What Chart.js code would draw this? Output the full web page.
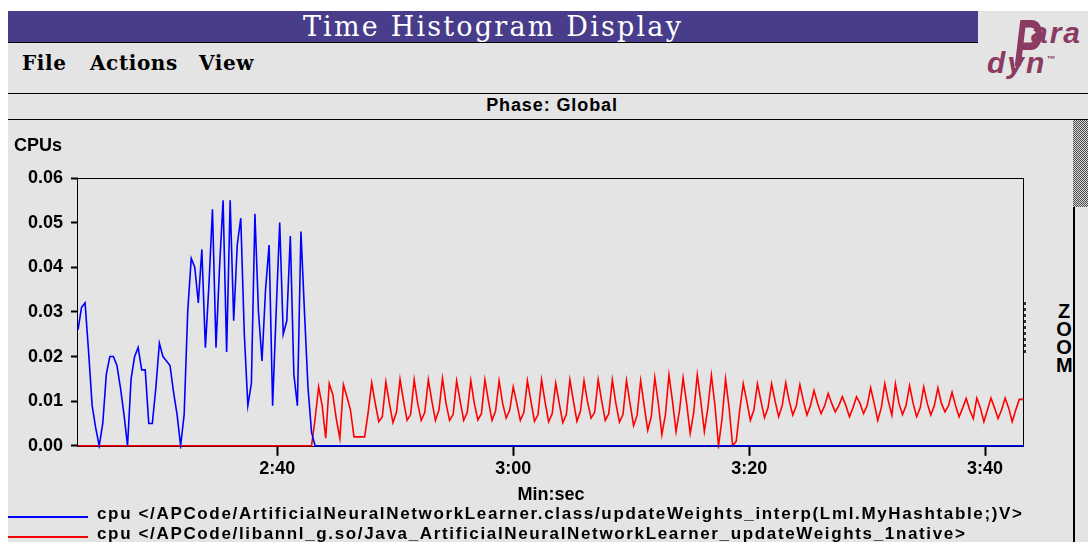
<!DOCTYPE html>
<html>
<head>
<meta charset="utf-8">
<title>Time Histogram Display</title>
<script src="https://cdn.jsdelivr.net/npm/chart.js@4.4.1/dist/chart.umd.min.js"></script>
<style>
  body {
    margin: 0;
    width: 1088px;
    height: 542px;
    overflow: hidden;
    position: relative;
    background: #fff;
    font-family: "Liberation Sans", Arial, sans-serif;
  }
  .win {
    position: absolute;
    left: 8px;
    top: 11px;
    right: 0;
    bottom: 0;
    background: #e4e4e4;
  }
  .titlebar {
    position: absolute;
    left: 8px;
    top: 11px;
    width: 970px;
    height: 31px;
    background: #483d8b;
    border-bottom: 1px solid #000;
    color: #fff;
    text-align: center;
    font: 27px/31px "DejaVu Serif", serif;
    letter-spacing: 2.2px;
  }
  .menu {
    position: absolute;
    top: 53px;
    font: bold 20px/20px "DejaVu Serif", serif;
    letter-spacing: 0.6px;
  }
  .rule {
    position: absolute;
    left: 8px;
    right: 0;
    height: 1px;
    background: #000;
  }
  .phase {
    position: absolute;
    left: 8px;
    width: 1088px;
    top: 95px;
    text-align: center;
    font: bold 18px/20px "Liberation Sans", sans-serif;
    letter-spacing: 0.9px;
  }
  .logo {
    position: absolute;
    color: #8b3a62;
    font-family: "Liberation Sans", sans-serif;
    font-style: italic;
    font-weight: bold;
    line-height: 1;
  }
  #chartBox {
    position: absolute;
    left: 0;
    top: 130px;
    width: 1040px;
    height: 376px;
  }
  .dots {
    position: absolute;
    left: 1024px;
    top: 302px;
    width: 2px;
    height: 51px;
    background: repeating-linear-gradient(#333 0 3px, transparent 3px 6px);
  }
  .zoom {
    position: absolute;
    left: 1056px;
    top: 302px;
    width: 16px;
    text-align: center;
    font: bold 20px/18px "Liberation Sans", sans-serif;
  }
  .scroll-thumb {
    position: absolute;
    left: 1073px;
    top: 120px;
    width: 15px;
    height: 87px;
    background: repeating-conic-gradient(#4a4a4a 0 25%, #d8d8d8 0 50%) 0 0 / 2px 2px;
  }
  .scroll-trough {
    position: absolute;
    left: 1073px;
    top: 207px;
    width: 13px;
    bottom: 0;
    border-left: 2px solid #000;
    background: #e4e4e4;
  }
  #legend {
    position: absolute;
    left: 0;
    top: 504px;
    width: 1088px;
  }
  .legend-row {
    position: relative;
    height: 20px;
  }
  .legend-line {
    position: absolute;
    left: 8px;
    top: 12px;
    width: 80px;
    height: 2px;
  }
  .legend-text {
    position: absolute;
    left: 97px;
    top: 0;
    white-space: nowrap;
    font: bold 17px/20px "Liberation Sans", sans-serif;
    letter-spacing: 1.65px;
  }
</style>
</head>
<body>
  <div class="win"></div>
  <div class="titlebar">Time Histogram Display</div>
  <span class="menu" style="left: 22px">File</span>
  <span class="menu" style="left: 90px">Actions</span>
  <span class="menu" style="left: 199px">View</span>

  <span class="logo" style="left: 1014px; top: 10px; font-size: 44px; transform: scale(0.95, 1.5); transform-origin: 0 0;">P</span>
  <span class="logo" style="left: 1031px; top: 18px; font-size: 30px; letter-spacing: 2px;">ara</span>
  <span class="logo" style="left: 987px; top: 48px; font-size: 30px; letter-spacing: 2px;">dyn<sup style="font-size: 9px;">™</sup></span>

  <div class="rule" style="top: 93px"></div>
  <div class="phase">Phase: Global</div>
  <div class="rule" style="top: 119px"></div>

  <div id="chartBox"><canvas id="histChart"></canvas></div>
  <div class="dots"></div>
  <div class="zoom">Z<br>O<br>O<br>M</div>
  <div class="scroll-thumb"></div>
  <div class="scroll-trough"></div>

  <div id="legend"></div>

<script>
// Axis range and ticks (seconds since start, CPUs)
const timeRange = [143.1, 223.3];
const timeTicks = [160, 180, 200, 220];
const cpuTicks = [0, 0.01, 0.02, 0.03, 0.04, 0.05, 0.06];

// Histogram bins are 0.3 s wide, counted from timeRange[0]
const binWidth = 0.3;

const interpLabel =
  "cpu </APCode/ArtificialNeuralNetworkLearner.class/updateWeights_interp(Lml.MyHashtable;)V>";
const nativeLabel =
  "cpu </APCode/libannl_g.so/Java_ArtificialNeuralNetworkLearner_updateWeights_1native>";

// Interpreted method: bins 0..67, zero afterwards
const interpCpu = [
  0.026, 0.031, 0.032, 0.021, 0.009, 0.004, 0.000, 0.005,
  0.016, 0.020, 0.020, 0.018, 0.013, 0.007, 0.000, 0.015,
  0.020, 0.022, 0.017, 0.017, 0.005, 0.005, 0.013, 0.023,
  0.020, 0.019, 0.018, 0.012, 0.007, 0.000, 0.007, 0.030,
  0.042, 0.040, 0.032, 0.044, 0.022, 0.036, 0.053, 0.022,
  0.040, 0.055, 0.021, 0.055, 0.028, 0.045, 0.051, 0.025,
  0.009, 0.014, 0.052, 0.030, 0.019, 0.035, 0.045, 0.009,
  0.030, 0.050, 0.025, 0.028, 0.047, 0.016, 0.009, 0.048,
  0.030, 0.013, 0.003, 0.000,
];

// Native method: zero before bin 66, then bins 66..267
const nativeFirstBin = 66;
const nativeCpu = [
  0.0000, 0.0060, 0.0132, 0.0090, 0.0017, 0.0139, 0.0115, 0.0060,
  0.0017, 0.0137, 0.0110, 0.0080, 0.0020, 0.0020, 0.0020, 0.0020,
  0.0075, 0.0141, 0.0095, 0.0054, 0.0065, 0.0143, 0.0095, 0.0052,
  0.0075, 0.0149, 0.0100, 0.0057, 0.0070, 0.0148, 0.0095, 0.0057,
  0.0075, 0.0148, 0.0100, 0.0057, 0.0080, 0.0151, 0.0095, 0.0057,
  0.0070, 0.0145, 0.0100, 0.0057, 0.0075, 0.0146, 0.0095, 0.0058,
  0.0072, 0.0148, 0.0100, 0.0057, 0.0078, 0.0146, 0.0095, 0.0062,
  0.0080, 0.0132, 0.0095, 0.0057, 0.0075, 0.0146, 0.0100, 0.0055,
  0.0070, 0.0148, 0.0098, 0.0054, 0.0072, 0.0140, 0.0095, 0.0052,
  0.0070, 0.0148, 0.0100, 0.0055, 0.0078, 0.0146, 0.0098, 0.0062,
  0.0075, 0.0148, 0.0100, 0.0057, 0.0072, 0.0148, 0.0095, 0.0053,
  0.0070, 0.0146, 0.0095, 0.0045, 0.0068, 0.0146, 0.0090, 0.0035,
  0.0065, 0.0153, 0.0095, 0.0025, 0.0070, 0.0159, 0.0100, 0.0032,
  0.0080, 0.0152, 0.0095, 0.0028, 0.0075, 0.0159, 0.0100, 0.0032,
  0.0085, 0.0158, 0.0090, 0.0000, 0.0060, 0.0150, 0.0085, 0.0000,
  0.0010, 0.0080, 0.0139, 0.0100, 0.0057, 0.0080, 0.0139, 0.0100,
  0.0063, 0.0085, 0.0139, 0.0100, 0.0065, 0.0090, 0.0141, 0.0100,
  0.0069, 0.0090, 0.0137, 0.0100, 0.0069, 0.0090, 0.0124, 0.0095,
  0.0072, 0.0090, 0.0117, 0.0095, 0.0076, 0.0090, 0.0110, 0.0090,
  0.0065, 0.0085, 0.0110, 0.0095, 0.0072, 0.0090, 0.0130, 0.0095,
  0.0057, 0.0085, 0.0139, 0.0100, 0.0069, 0.0139, 0.0095, 0.0070,
  0.0090, 0.0135, 0.0095, 0.0065, 0.0085, 0.0132, 0.0095, 0.0069,
  0.0090, 0.0130, 0.0095, 0.0076, 0.0090, 0.0120, 0.0090, 0.0065,
  0.0085, 0.0106, 0.0080, 0.0061, 0.0107, 0.0085, 0.0054, 0.0080,
  0.0107, 0.0085, 0.0061, 0.0080, 0.0107, 0.0085, 0.0054, 0.0080,
  0.0104, 0.0104,
];

const interpColor = "#0000ff";
const nativeColor = "#ff0000";

// Turn a run of bin values into {x, y} points on the time axis
function binPoints(values, firstBin) {
  return values.map((v, i) => ({
    x: timeRange[0] + (firstBin + i) * binWidth,
    y: v,
  }));
}

function formatMinSec(value) {
  const min = Math.floor(value / 60);
  const sec = Math.round(value - min * 60);
  return `${min}:${String(sec).padStart(2, "0")}`;
}

// Black box round the plotting area
const framePlugin = {
  id: "frame",
  beforeDatasetsDraw: (chart) => {
    const { ctx, chartArea } = chart;
    ctx.save();
    ctx.strokeStyle = "#000";
    ctx.lineWidth = 1;
    ctx.strokeRect(
      Math.round(chartArea.left) - 0.5,
      Math.round(chartArea.top) + 0.5,
      Math.round(chartArea.right - chartArea.left),
      Math.round(chartArea.bottom - chartArea.top)
    );
    ctx.restore();
  },
};

Chart.defaults.font.family = "'Liberation Sans', Arial, sans-serif";
Chart.defaults.color = "#000";

const tickFont = { size: 18, weight: "bold" };

const histChart = new Chart(document.getElementById("histChart"), {
  type: "line",
  data: {
    datasets: [
      {
        label: interpLabel,
        data: [...binPoints(interpCpu, 0), { x: timeRange[1], y: 0 }],
        borderColor: interpColor,
        borderWidth: 1.6,
        clip: 3,
      },
      {
        label: nativeLabel,
        data: [{ x: timeRange[0], y: 0 }, ...binPoints(nativeCpu, nativeFirstBin)],
        borderColor: nativeColor,
        borderWidth: 1.6,
        clip: 3,
      },
    ],
  },
  options: {
    responsive: true,
    maintainAspectRatio: false,
    animation: false,
    elements: {
      point: { radius: 0 },
      line: { tension: 0 },
    },
    layout: {
      padding: { left: 14, right: 16, top: 0, bottom: 0 },
    },
    plugins: {
      legend: { display: false },
      tooltip: { enabled: false },
      title: {
        display: true,
        text: "CPUs",
        align: "start",
        font: { size: 18, weight: "bold" },
        padding: { top: 5, bottom: 21.4 },
      },
    },
    scales: {
      x: {
        type: "linear",
        min: timeRange[0],
        max: timeRange[1],
        afterBuildTicks: (scale) => {
          scale.ticks = timeTicks.map((v) => ({ value: v }));
        },
        ticks: {
          font: tickFont,
          padding: 2,
          maxRotation: 0,
          autoSkip: false,
          callback: (value) => formatMinSec(value),
        },
        grid: {
          drawOnChartArea: false,
          tickLength: 10,
          tickWidth: 2,
          tickColor: "#000",
        },
        border: { display: false },
        title: {
          display: true,
          text: "Min:sec",
          font: { size: 18, weight: "bold" },
          padding: { top: 3, bottom: 0 },
        },
      },
      y: {
        min: 0,
        max: 0.06,
        afterBuildTicks: (scale) => {
          scale.ticks = cpuTicks.map((v) => ({ value: v }));
        },
        afterFit: (scale) => {
          scale.width = 64;
        },
        ticks: {
          font: tickFont,
          padding: 8,
          callback: (value) => value.toFixed(2),
        },
        grid: {
          drawOnChartArea: false,
          tickLength: 7,
          tickWidth: 2,
          tickColor: "#000",
        },
        border: { display: false },
      },
    },
  },
  plugins: [framePlugin],
});

// Legend below the chart, one row per dataset
const legendEl = document.getElementById("legend");
histChart.data.datasets.forEach((ds) => {
  const row = document.createElement("div");
  row.className = "legend-row";
  row.innerHTML = `
    <span class="legend-line" style="background:${ds.borderColor}"></span>
    <span class="legend-text"></span>
  `;
  row.querySelector(".legend-text").textContent = ds.label;
  legendEl.appendChild(row);
});
</script>
</body>
</html>
